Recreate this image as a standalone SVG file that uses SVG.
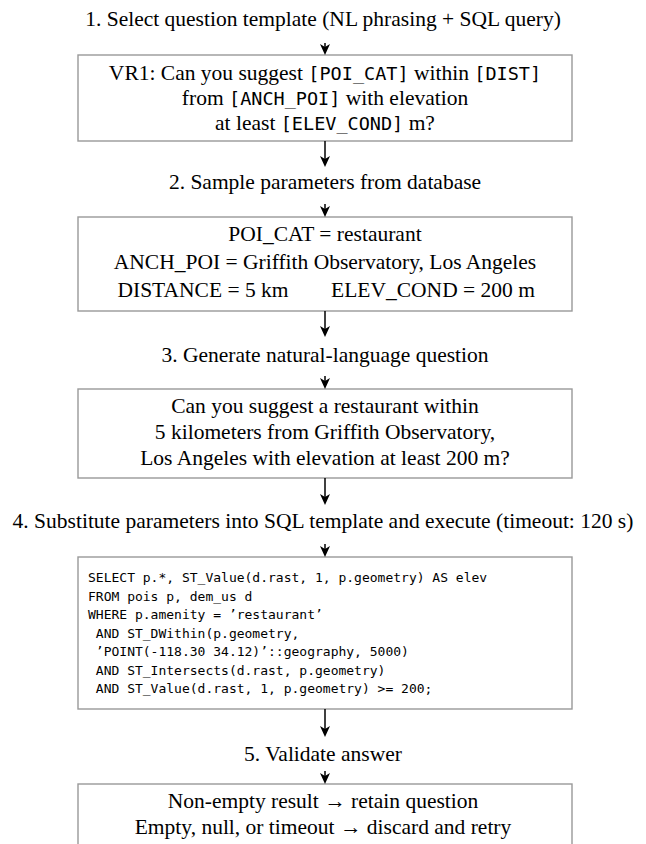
<svg xmlns="http://www.w3.org/2000/svg" width="646" height="844" viewBox="0 0 646 844">
<style>
.bg{fill:#fff}
.box{fill:#fff;stroke:#999;stroke-width:1.4}
.t{font-family:"Liberation Serif","Times New Roman",serif;font-size:21.5px;fill:#000;text-anchor:middle}
.m{font-family:"DejaVu Sans Mono","Liberation Mono",monospace;font-size:18.5px}
.sql{font-family:"DejaVu Sans Mono","Liberation Mono",monospace;font-size:13px;fill:#000}
.ln{stroke:#000;stroke-width:1.5;fill:none}
</style>
<defs>
<path id="ah" d="M0,0 L-5,-11 L0,-8 L5,-11 Z" fill="#000"/>
</defs>
<rect class="bg" x="0" y="0" width="646" height="844"/>

<g id="step1">
<text class="t" x="323" y="26">1. Select question template (NL phrasing + SQL query)</text>
</g>
<g id="template">
<rect class="box" x="78" y="55" width="494" height="86"/>
<text class="t" x="325" y="80">VR1: Can you suggest <tspan class="m">[POI_CAT]</tspan> within <tspan class="m">[DIST]</tspan></text>
<text class="t" x="325" y="105">from <tspan class="m">[ANCH_POI]</tspan> with elevation</text>
<text class="t" x="325" y="130">at least <tspan class="m">[ELEV_COND]</tspan> m?</text>
</g>
<g id="step2">
<text class="t" x="325" y="189">2. Sample parameters from database</text>
</g>
<g id="params">
<rect class="box" x="78" y="217" width="494" height="94"/>
<text class="t" x="325" y="241">POI_CAT = restaurant</text>
<text class="t" x="325" y="269">ANCH_POI = Griffith Observatory, Los Angeles</text>
<text class="t" x="203" y="297">DISTANCE = 5 km</text>
<text class="t" x="433" y="297">ELEV_COND = 200 m</text>
</g>
<g id="step3">
<text class="t" x="325" y="362">3. Generate natural-language question</text>
</g>
<g id="question">
<rect class="box" x="78" y="389" width="494" height="89"/>
<text class="t" x="325" y="413">Can you suggest a restaurant within</text>
<text class="t" x="325" y="439">5 kilometers from Griffith Observatory,</text>
<text class="t" x="325" y="465">Los Angeles with elevation at least 200 m?</text>
</g>
<g id="step4">
<text class="t" x="323" y="528">4. Substitute parameters into SQL template and execute (timeout: 120 s)</text>
</g>
<g id="sql">
<rect class="box" x="78" y="557" width="494" height="152"/>
<text class="sql" x="88" y="582">SELECT p.*, ST_Value(d.rast, 1, p.geometry) AS elev</text>
<text class="sql" x="88" y="600.5">FROM pois p, dem_us d</text>
<text class="sql" x="88" y="619">WHERE p.amenity = ’restaurant’</text>
<text class="sql" x="88" y="637.5" xml:space="preserve"> AND ST_DWithin(p.geometry,</text>
<text class="sql" x="88" y="656" xml:space="preserve"> ’POINT(-118.30 34.12)’::geography, 5000)</text>
<text class="sql" x="88" y="674.5" xml:space="preserve"> AND ST_Intersects(d.rast, p.geometry)</text>
<text class="sql" x="88" y="693" xml:space="preserve"> AND ST_Value(d.rast, 1, p.geometry) &gt;= 200;</text>
</g>
<g id="step5">
<text class="t" x="323" y="761">5. Validate answer</text>
</g>
<g id="validate">
<rect class="box" x="78" y="784" width="494" height="80"/>
<text class="t" x="323" y="808">Non-empty result → retain question</text>
<text class="t" x="323" y="834">Empty, null, or timeout → discard and retry</text>
</g>

<g id="connectors">
<line class="ln" x1="325" y1="43" x2="325" y2="49"/><use href="#ah" x="325" y="55"/>
<line class="ln" x1="325" y1="141" x2="325" y2="161"/><use href="#ah" x="325" y="167"/>
<line class="ln" x1="325" y1="204" x2="325" y2="211"/><use href="#ah" x="325" y="217"/>
<line class="ln" x1="325" y1="311" x2="325" y2="331"/><use href="#ah" x="325" y="337"/>
<line class="ln" x1="325" y1="376" x2="325" y2="383"/><use href="#ah" x="325" y="389"/>
<line class="ln" x1="325" y1="478" x2="325" y2="499"/><use href="#ah" x="325" y="505"/>
<line class="ln" x1="325" y1="544" x2="325" y2="551"/><use href="#ah" x="325" y="557"/>
<line class="ln" x1="325" y1="709" x2="325" y2="731"/><use href="#ah" x="325" y="737"/>
<line class="ln" x1="325" y1="771" x2="325" y2="778"/><use href="#ah" x="325" y="784"/>
</g>
</svg>
